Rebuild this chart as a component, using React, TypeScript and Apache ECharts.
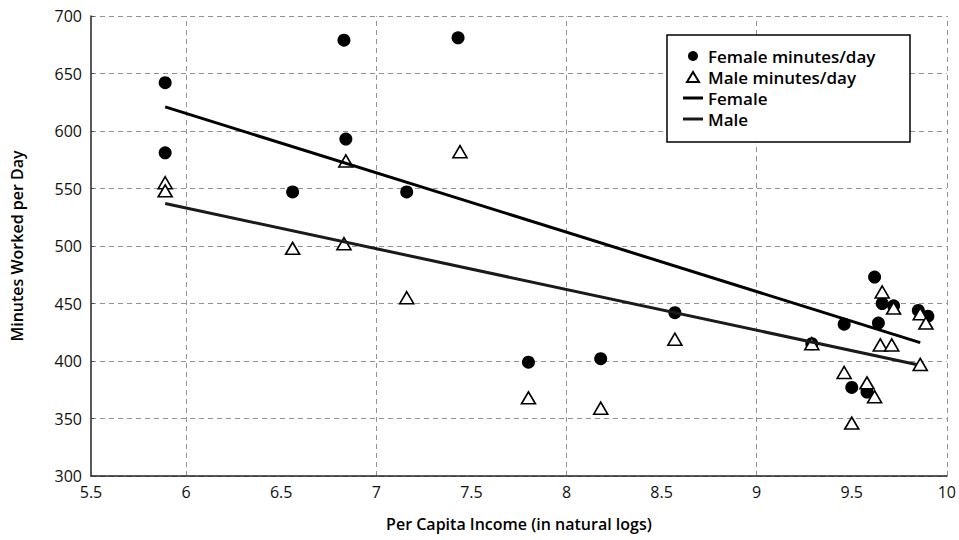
import React, { useEffect, useRef } from "react";
import * as echarts from "echarts";

// ---- Data ----
const femaleX = [5.89, 5.89, 6.56, 6.83, 6.84, 7.16, 7.43, 7.80, 8.18, 8.57, 9.29, 9.46, 9.50, 9.58, 9.62, 9.64, 9.66, 9.72, 9.85, 9.90];
const femaleY = [642, 581, 547, 679, 593, 547, 681, 399, 402, 442, 415, 432, 377, 373, 473, 433, 450, 448, 444, 439];

const maleX = [5.89, 5.89, 6.56, 6.83, 6.84, 7.16, 7.44, 7.80, 8.18, 8.57, 9.29, 9.46, 9.50, 9.58, 9.62, 9.65, 9.66, 9.71, 9.72, 9.86, 9.89, 9.86];
const maleY = [555, 548, 498, 502, 574, 455, 582, 368, 359, 419, 415, 390, 346, 381, 369, 414, 460, 414, 446, 441, 433, 397];

// regression line end points
const femaleLineX = [5.89, 9.86];
const femaleLineY = [621, 416];
const maleLineX = [5.89, 9.84];
const maleLineY = [537, 397];

// vertical grid lines (integer incomes only)
const xGridValues = [6, 7, 8, 9, 10];

const legendNames = ["Female minutes/day", "Male minutes/day", "Female", "Male"];
const xTitle = "Per Capita Income (in natural logs)";
const yTitle = "Minutes Worked per Day";

const zip = (xs: number[], ys: number[]) => xs.map((x, i) => [x, ys[i]]);

export default function App() {
  const ref = useRef<HTMLDivElement>(null);
  useEffect(() => {
    if (!ref.current) return;
    const chart = echarts.init(ref.current, null, { renderer: "svg" });
    const font = "'Open Sans', 'DejaVu Sans', sans-serif";
    const gridStyle = { color: "#777", width: 0.8, type: [5, 4] as any };
    const lineIcon = "path://M0,0H20V3H0Z";
    chart.setOption({
      animation: false,
      backgroundColor: "#fff",
      textStyle: { fontFamily: font },
      grid: { left: 91, right: 11, top: 16, bottom: 64, containLabel: false },
      graphic: [
        {
          type: "rect",
          z: 3,
          shape: { x: 667, y: 35, width: 243, height: 107 },
          style: { fill: "#fff", stroke: "#000", lineWidth: 1.5 },
        },
      ],
      legend: {
        z: 10,
        orient: "vertical",
        left: 683,
        top: 47,
        padding: 0,
        itemGap: 3,
        itemWidth: 20,
        itemHeight: 10,
        data: [
          { name: legendNames[0], icon: "circle" },
          { name: legendNames[1], icon: "path://M6,0L12,10L0,10Z" },
          { name: legendNames[2], icon: lineIcon },
          { name: legendNames[3], icon: lineIcon },
        ],
        textStyle: { fontFamily: font, fontSize: 17, lineHeight: 18, fontWeight: 600, color: "#000" },
      },
      xAxis: {
        type: "value",
        min: 5.5,
        max: 10,
        interval: 0.5,
        name: xTitle,
        nameLocation: "middle",
        nameGap: 40,
        nameTextStyle: { fontFamily: font, fontSize: 16, fontWeight: 600, color: "#000" },
        axisLine: { show: true, onZero: false, lineStyle: { color: "#222", width: 1.5 } },
        axisTick: { show: false },
        axisLabel: { fontFamily: font, fontSize: 16, color: "#111", margin: 8 },
        splitLine: { show: false },
      },
      yAxis: {
        type: "value",
        min: 300,
        max: 700,
        interval: 50,
        name: yTitle,
        nameLocation: "middle",
        nameGap: 66,
        nameTextStyle: { fontFamily: font, fontSize: 16, fontWeight: 600, color: "#000" },
        axisLine: { show: true, lineStyle: { color: "#222", width: 1.5 } },
        axisTick: { show: true, inside: true, length: 3, lineStyle: { color: "#444" } },
        axisLabel: { fontFamily: font, fontSize: 16, color: "#111", margin: 9 },
        splitLine: { show: true, lineStyle: gridStyle },
      },
      series: [
        {
          name: legendNames[0],
          type: "scatter",
          symbol: "circle",
          symbolSize: 13,
          itemStyle: { color: "#000", opacity: 1 },
          z: 3,
          data: zip(femaleX, femaleY),
          markLine: {
            silent: true,
            symbol: "none",
            label: { show: false },
            lineStyle: gridStyle,
            z: 0,
            data: xGridValues.map((v) => ({ xAxis: v })),
          },
        },
        {
          name: legendNames[1],
          type: "scatter",
          symbol: "triangle",
          symbolSize: [14, 12],
          itemStyle: { color: "#fff", borderColor: "#000", borderWidth: 1.6, opacity: 1 },
          z: 4,
          data: zip(maleX, maleY),
        },
        {
          name: legendNames[2],
          type: "line",
          symbol: "none",
          lineStyle: { color: "#000", width: 3 },
          itemStyle: { color: "#000" },
          z: 5,
          data: zip(femaleLineX, femaleLineY),
        },
        {
          name: legendNames[3],
          type: "line",
          symbol: "none",
          lineStyle: { color: "#1a1a1a", width: 3 },
          itemStyle: { color: "#1a1a1a" },
          z: 5,
          data: zip(maleLineX, maleLineY),
        },
      ],
    });
    return () => chart.dispose();
  }, []);
  return <div ref={ref} style={{ position: "fixed", left: 0, top: 0, width: 959, height: 540 }} />;
}
